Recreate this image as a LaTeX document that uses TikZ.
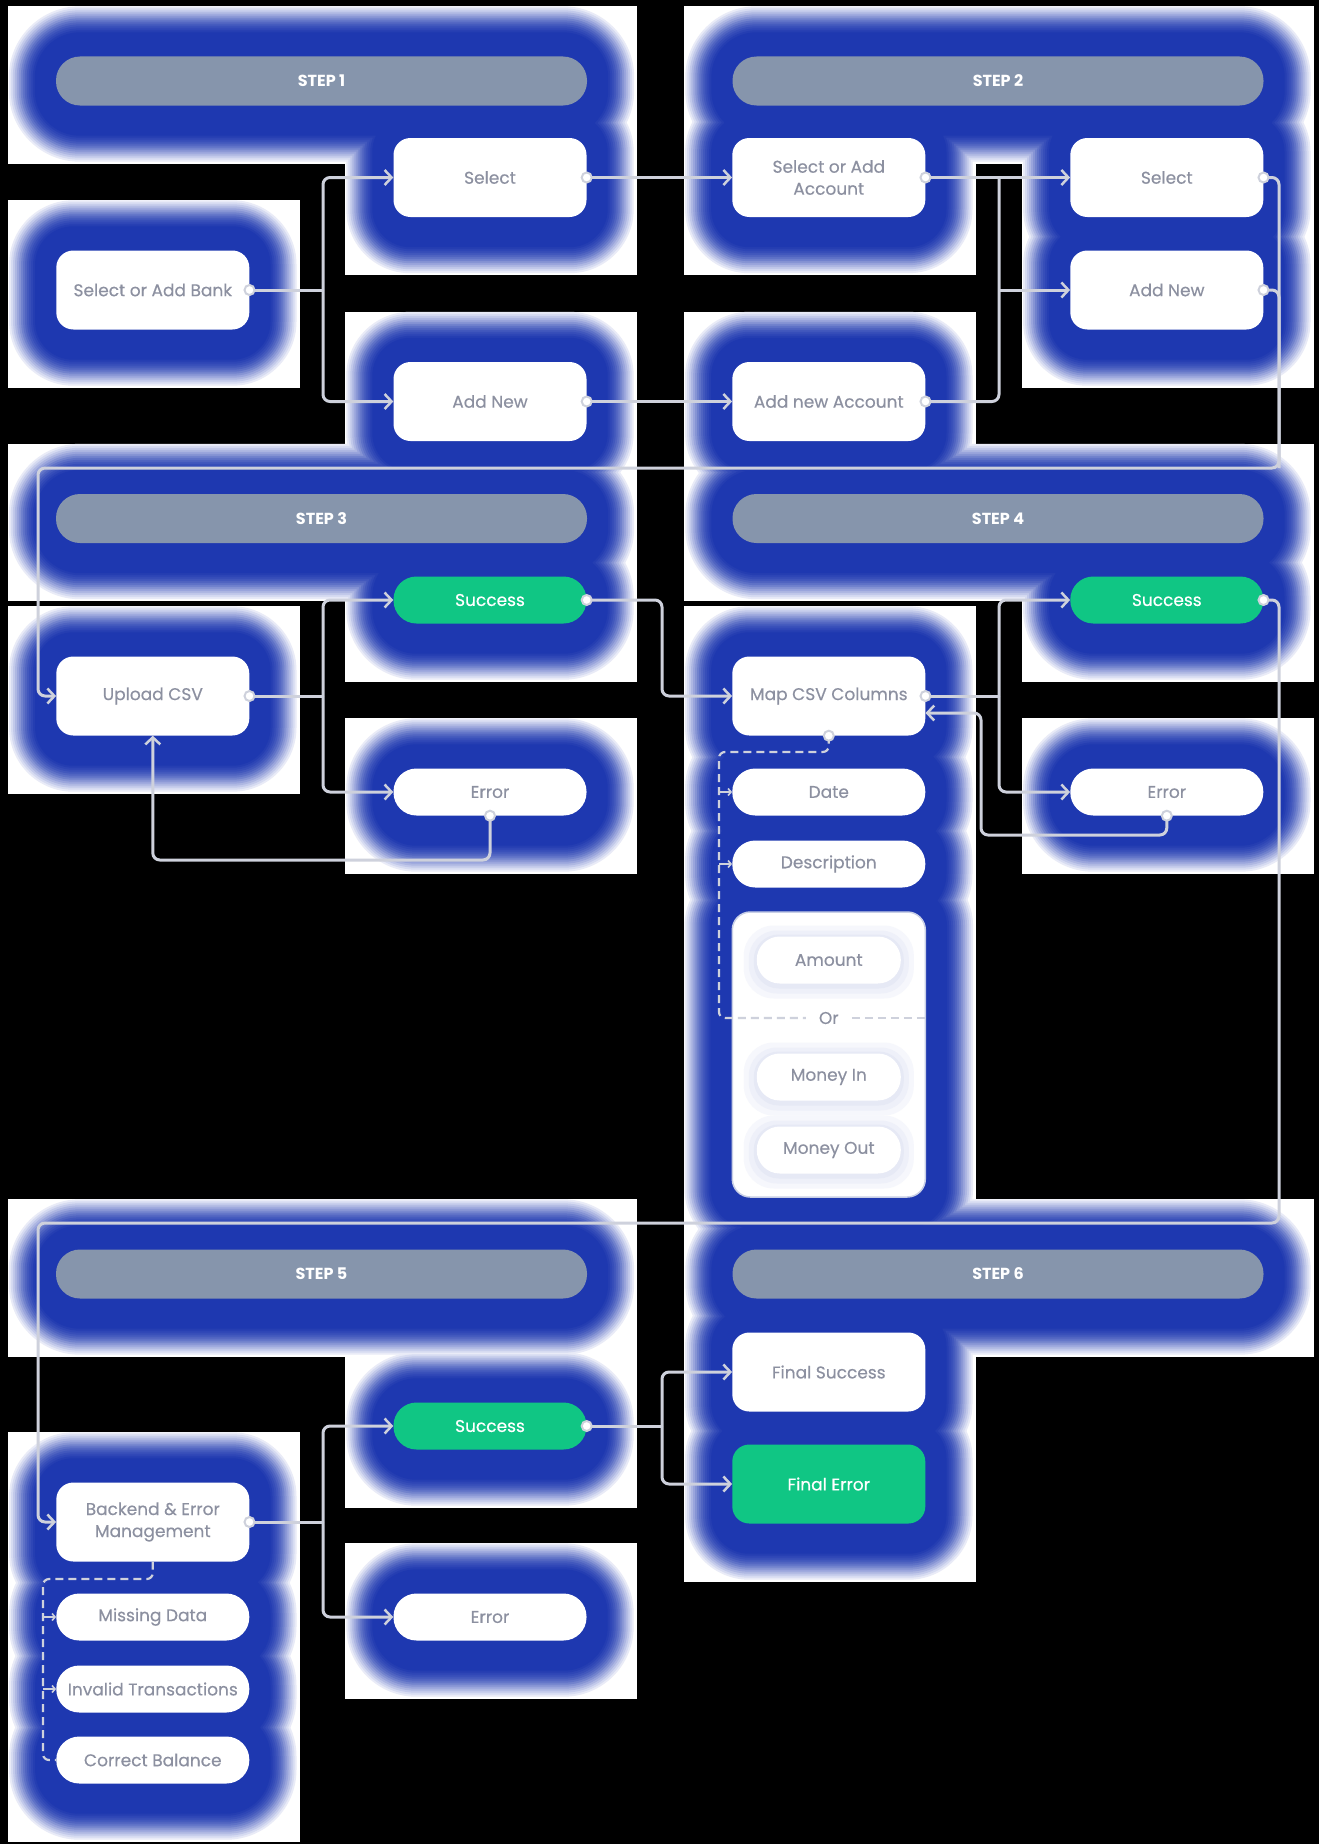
\documentclass[tikz,border=0pt]{standalone}
\usepackage{fontspec}
\setmainfont{Poppins}
\newfontfamily\medfont{Poppins}[FakeBold=0.35]
\usetikzlibrary{arrows.meta,calc}
\definecolor{glowc}{RGB}{30,56,176}
\definecolor{txt}{RGB}{140,144,160}
\definecolor{barc}{RGB}{134,149,172}
\definecolor{grn}{RGB}{16,198,132}
\definecolor{lnc}{RGB}{206,209,220}
\definecolor{pnl}{RGB}{200,207,230}
\definecolor{shdA}{RGB}{246,247,252}
\definecolor{shdB}{RGB}{238,240,249}
\definecolor{shdC}{RGB}{230,233,245}
\pgfdeclarelayer{bgblack}
\pgfdeclarelayer{glowwhite}
\pgfdeclarelayer{glowblue}
\pgfsetlayers{bgblack,glowwhite,glowblue,main}
\tikzset{
  box/.style={rectangle, rounded corners=17pt, fill=white, text=txt, minimum width=193pt, minimum height=79pt, inner sep=0pt, align=center, font=\medfont\fontsize{17}{22}\selectfont},
  pill/.style={box, rounded corners=23pt, minimum height=47pt},
  gpill/.style={pill, fill=grn, text=white},
  gbox/.style={box, fill=grn, text=white},
  stepbar/.style={rectangle, rounded corners=24pt, fill=barc, text=white, minimum width=531pt, minimum height=49pt, inner sep=0pt, font=\bfseries\fontsize{16}{18}\selectfont},
  conn/.style={draw=lnc, line width=3pt, rounded corners=7pt},
  arr/.style={-{Straight Barb[length=7pt,width=15pt,line width=2.5pt]}},
  dashc/.style={draw=lnc, line width=2.2pt, dash pattern=on 8pt off 5pt, rounded corners=6pt},
  tickc/.style={draw=lnc, line width=2pt, -{Straight Barb[length=3pt,width=7pt,line width=1.6pt]}},
  port/.style={circle, fill=white, draw=lnc, line width=2pt, minimum size=10pt, inner sep=0pt},
}
\begin{document}
\begin{tikzpicture}[x=1pt,y=-1pt]
\useasboundingbox (0,0) rectangle (1319,1844);
\begin{pgfonlayer}{bgblack}
\fill[black] (0,0) rectangle (1319,1844);
\end{pgfonlayer}

% ---------- step bars ----------
\node[stepbar] (s1) at (321.5,81) {STEP 1};
\node[stepbar] (s2) at (998,81) {STEP 2};
\node[stepbar] (s3) at (321.5,518.5) {STEP 3};
\node[stepbar] (s4) at (998,518.5) {STEP 4};
\node[stepbar] (s5) at (321.5,1274) {STEP 5};
\node[stepbar] (s6) at (998,1274) {STEP 6};

% ---------- step 1 / 2 ----------
\node[box] (bank) at (152.8,290) {Select or Add Bank};
\node[box] (sel1) at (490,177.5) {Select};
\node[box] (add1) at (490,401.5) {Add New};
\node[box] (selacc) at (828.8,177.5) {Select or Add\\Account};
\node[box] (addacc) at (828.8,401.5) {Add new Account};
\node[box] (sel2) at (1166.8,177.5) {Select};
\node[box] (add2) at (1166.8,290) {Add New};

% ---------- step 3 / 4 ----------
\node[box] (upload) at (152.8,696) {Upload CSV};
\node[gpill] (succ3) at (490,600) {Success};
\node[pill] (err3) at (490,792) {Error};
\node[box] (map) at (828.8,696) {Map CSV Columns};
\node[pill] (date) at (828.8,792) {Date};
\node[pill] (desc) at (828.8,864) {Description};
\node[gpill] (succ4) at (1166.8,600) {Success};
\node[pill] (err4) at (1166.8,792) {Error};

% amount panel
\node[rectangle, rounded corners=18pt, fill=white, draw=pnl, line width=1.5pt, minimum width=193pt, minimum height=285pt, inner sep=0pt] (panel) at (828.8,1054.5) {};
\foreach \yy in {960,1077,1150}{
  \fill[shdA, rounded corners=30pt] (828.8-72-13,\yy-23.5-11) rectangle (828.8+72+13,\yy+23.5+15);
  \fill[shdB, rounded corners=28pt] (828.8-72-8,\yy-23.5-6) rectangle (828.8+72+8,\yy+23.5+10);
  \fill[shdC, rounded corners=25pt] (828.8-72-3,\yy-23.5-2) rectangle (828.8+72+3,\yy+23.5+5);
}
\node[pill, minimum width=144pt] (amount) at (828.8,960) {Amount};
\node[text=txt, font=\medfont\fontsize{17}{20}\selectfont, inner xsep=13pt, inner ysep=0pt] (or) at (828.8,1018) {Or};
\node[pill, minimum width=144pt] (moneyin) at (828.8,1077) {Money In};
\node[pill, minimum width=144pt] (moneyout) at (828.8,1150) {Money Out};

% ---------- step 5 / 6 ----------
\node[box] (backend) at (152.8,1522) {Backend \& Error\\Management};
\node[pill] (miss) at (152.8,1617) {Missing Data};
\node[pill] (inval) at (152.8,1689) {Invalid Transactions};
\node[pill] (corr) at (152.8,1760) {Correct Balance};
\node[gpill] (succ5) at (490,1426) {Success};
\node[pill] (err5) at (490,1617) {Error};
\node[box] (fsucc) at (828.8,1372) {Final Success};
\node[gbox] (ferr) at (828.8,1484) {Final Error};

% ---------- glows ----------
\def\glowlist{s1/24,s2/24,s3/24,s4/24,s5/24,s6/24,bank/17,sel1/17,add1/17,selacc/17,addacc/17,sel2/17,add2/17,upload/17,map/17,backend/17,fsucc/17,ferr/17,succ3/23,err3/23,succ4/23,err4/23,date/23,desc/23,succ5/23,err5/23,miss/23,inval/23,corr/23,panel/18}
\begin{pgfonlayer}{glowwhite}
\foreach \n/\r in \glowlist {
  \fill[white] ($(\n.north west)+(-48,-50)$) rectangle ($(\n.south east)+(50,58)$);
}
\end{pgfonlayer}
\begin{pgfonlayer}{glowblue}
\foreach \p/\ex/\ey in {10/47/50, 18/45/48, 27/43/46, 36/41/44, 45/39/42, 54/37/40, 63/35/38, 71/33/36, 78/31/34, 84/29/32, 89/27/30, 93/25/28, 97/23/26, 100/21/24} {
  \foreach \n/\r in \glowlist {
    \pgfmathsetmacro\rr{\r+\ex}
    \fill[glowc!\p!white, rounded corners=\rr pt] ($(\n.north west)+(-\ex,-\ey)$) rectangle ($(\n.south east)+(\ex,\ey+6)$);
  }
}
\end{pgfonlayer}

% ---------- connectors ----------
\coordinate (b1) at (323,290);
\draw[conn] (bank.east) -- (b1);
\draw[conn,arr] (b1) |- (sel1.west);
\draw[conn,arr] (b1) |- (add1.west);
\draw[conn,arr] (sel1.east) -- (selacc.west);
\draw[conn,arr] (add1.east) -- (addacc.west);
\coordinate (b2) at (999,177.5);
\draw[conn] (selacc.east) -- (b2);
\draw[conn] (addacc.east) -| (b2);
\draw[conn,arr] (b2) -- (sel2.west);
\draw[conn,arr] (b2 |- add2.west) -- (add2.west);
\coordinate (r1) at (1279,468);
\coordinate (l1) at (38,468);
\draw[conn] (add2.east) -| (r1);
\draw[conn,arr] (sel2.east) -| (r1) -- (l1) |- (upload.west);

\coordinate (b3) at (323,696);
\draw[conn] (upload.east) -- (b3);
\draw[conn,arr] (b3) |- (succ3.west);
\draw[conn,arr] (b3) |- (err3.west);
\coordinate (fb3) at (152.8,860);
\draw[conn,arr] (err3.south) |- (fb3) -- (upload.south);
\coordinate (b3b) at (662,696);
\draw[conn,arr] (succ3.east) -| (b3b) -- (map.west);

\coordinate (b4) at (999,696);
\draw[conn] (map.east) -- (b4);
\draw[conn,arr] (b4) |- (succ4.west);
\draw[conn,arr] (b4) |- (err4.west);
\coordinate (fb4) at (981,835);
\draw[conn,arr] (err4.south) |- (fb4) |- ($(map.east)+(0,17)$);
\coordinate (r2) at (1279,1223);
\coordinate (l2) at (38,1223);
\draw[conn,arr] (succ4.east) -| (r2) -- (l2) |- (backend.west);

\coordinate (dm) at (719,752);
\draw[dashc] (map.south) |- (dm) |- (or.west);
\draw[dashc] (or.east) -- (panel.east |- or.east);
\draw[tickc] (dm |- date.west) -- (date.west);
\draw[tickc] (dm |- desc.west) -- (desc.west);

\coordinate (b5) at (323,1522);
\draw[conn] (backend.east) -- (b5);
\draw[conn,arr] (b5) |- (succ5.west);
\draw[conn,arr] (b5) |- (err5.west);
\coordinate (b6) at (662,1426);
\draw[conn] (succ5.east) -- (b6);
\draw[conn,arr] (b6) |- (fsucc.west);
\draw[conn,arr] (b6) |- (ferr.west);

\coordinate (db) at (43,1579);
\draw[dashc] (backend.south) |- (db) |- (corr.west);
\draw[tickc] (db |- miss.west) -- (miss.west);
\draw[tickc] (db |- inval.west) -- (inval.west);

% ---------- ports ----------
\foreach \a in {bank.east,sel1.east,add1.east,selacc.east,addacc.east,sel2.east,add2.east,upload.east,succ3.east,err3.south,map.east,map.south,succ4.east,err4.south,backend.east,succ5.east}
  \node[port] at (\a) {};
\end{tikzpicture}
\end{document}
